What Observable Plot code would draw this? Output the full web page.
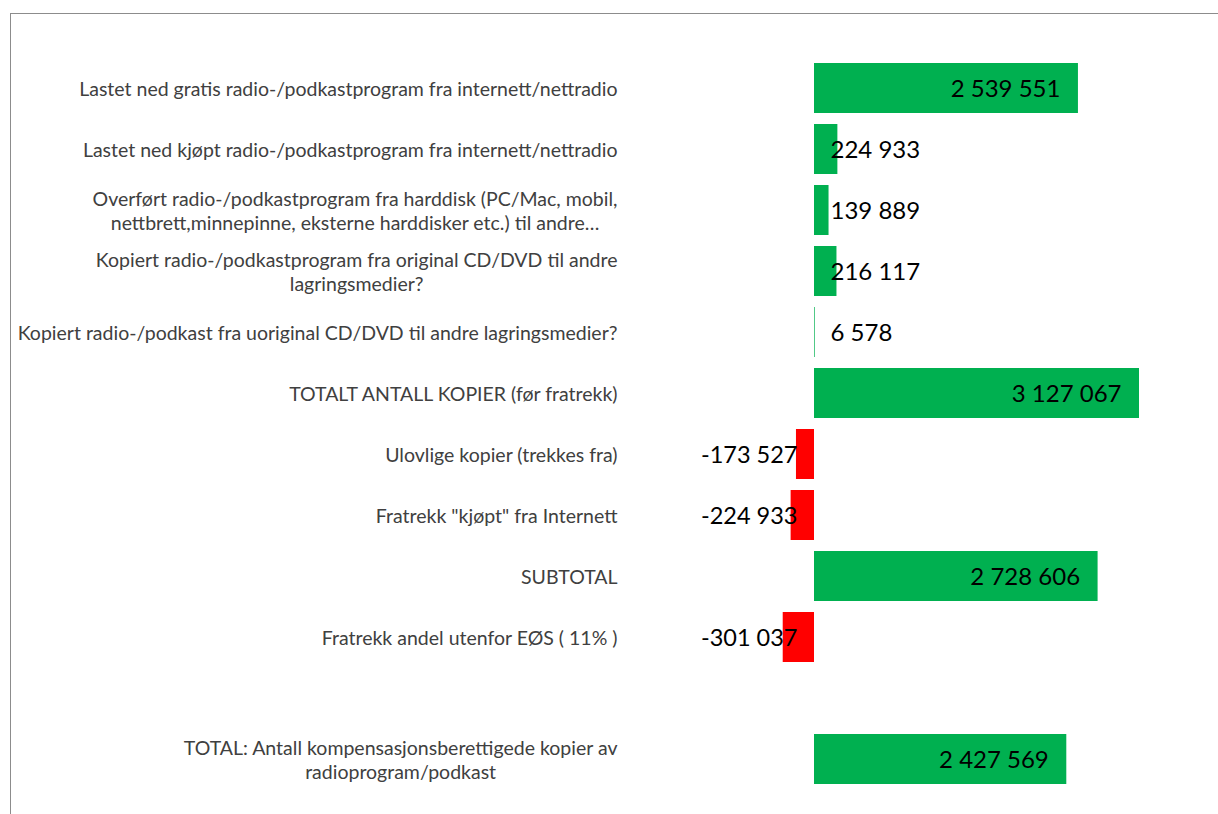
<!DOCTYPE html>
<html><head><meta charset="utf-8">
<script src="https://cdn.jsdelivr.net/npm/d3@7"></script>
<script src="https://cdn.jsdelivr.net/npm/@observablehq/plot@0.6"></script>
<style>
body{margin:0;background:#fff;}
#wrap{position:relative;width:1218px;height:814px;overflow:hidden;}
#frame{position:absolute;left:10px;top:13px;width:1400px;height:1000px;border-left:1px solid #8c8c8c;border-top:1px solid #8c8c8c;}
#chart{position:absolute;left:0;top:0;}
</style></head><body>
<div id="wrap"><div id="frame"></div><div id="chart"></div></div>
<script>
const categories = [
  "Lastet ned gratis radio-/podkastprogram fra internett/nettradio",
  "Lastet ned kjøpt radio-/podkastprogram fra internett/nettradio",
  "Overført radio-/podkastprogram fra harddisk (PC/Mac, mobil,\nnettbrett,minnepinne, eksterne harddisker etc.) til andre…",
  "Kopiert radio-/podkastprogram fra original CD/DVD til andre\nlagringsmedier?",
  "Kopiert radio-/podkast fra uoriginal CD/DVD til andre lagringsmedier?",
  "TOTALT ANTALL KOPIER (før fratrekk)",
  "Ulovlige kopier (trekkes fra)",
  "Fratrekk \"kjøpt\" fra Internett",
  "SUBTOTAL",
  "Fratrekk andel utenfor EØS ( 11% )",
  "",
  "TOTAL: Antall kompensasjonsberettigede kopier av\nradioprogram/podkast"
];
const values = [2539551, 224933, 139889, 216117, 6578, 3127067, -173527, -224933, 2728606, -301037, null, 2427569];

const data = categories.map((c, i) => ({key: String(i), label: c, value: values[i]}));
const bars = data.filter(d => d.value != null);
const locale = d3.formatLocale({decimal: ",", thousands: " ", grouping: [3], currency: ["", ""], minus: "-"});
const fmt = locale.format(",d");
const GREEN = "#00B050", RED = "#FF0000";
const font = "Lato, 'Open Sans', sans-serif";

const chart = Plot.plot({
  width: 1218,
  height: 814,
  marginLeft: 620,
  marginRight: 0,
  marginTop: 51,
  marginBottom: 18,
  style: {fontFamily: font, color: "#404040", background: "transparent"},
  x: {domain: [-1866600, 3887200], axis: null},
  y: {domain: data.map(d => d.key), padding: 0.18, axis: null},
  marks: [
    Plot.axisY({
      tickSize: 0, tickPadding: 3, fontSize: 19.5, lineHeight: 1.23,
      tickFormat: k => categories[+k], label: null, fill: "#404040"
    }),
    Plot.barX(bars, {y: "key", x: "value", fill: d => d.value < 0 ? RED : GREEN}),
    Plot.text(bars.filter(d => d.value > 1000000), {
      y: "key", x: "value", text: d => fmt(d.value), textAnchor: "end", dx: -18, dy: 1,
      fontSize: 24, fill: "#000"
    }),
    Plot.text(bars.filter(d => d.value >= 0 && d.value <= 1000000), {
      y: "key", x: () => 0, text: d => fmt(d.value), textAnchor: "start", dx: 16, dy: 1,
      fontSize: 24, fill: "#000"
    }),
    Plot.text(bars.filter(d => d.value < 0), {
      y: "key", x: () => 0, text: d => fmt(d.value), textAnchor: "end", dx: -17, dy: 1,
      fontSize: 23.5, fill: "#000"
    })
  ]
});
document.getElementById("chart").appendChild(chart);

// center multi-line category labels within their block (right edge kept)
chart.querySelectorAll("text").forEach(t => {
  const spans = t.querySelectorAll("tspan");
  if (spans.length > 1 && t.getAttribute("text-anchor") !== "middle") {
    const b0 = t.getBBox();
    t.setAttribute("text-anchor", "middle");
    const b1 = t.getBBox();
    const delta = (b0.x + b0.width) - (b1.x + b1.width);
    spans.forEach(s => s.setAttribute("x", (parseFloat(s.getAttribute("x") || 0) + delta)));
  }
});
</script>
</body></html>
